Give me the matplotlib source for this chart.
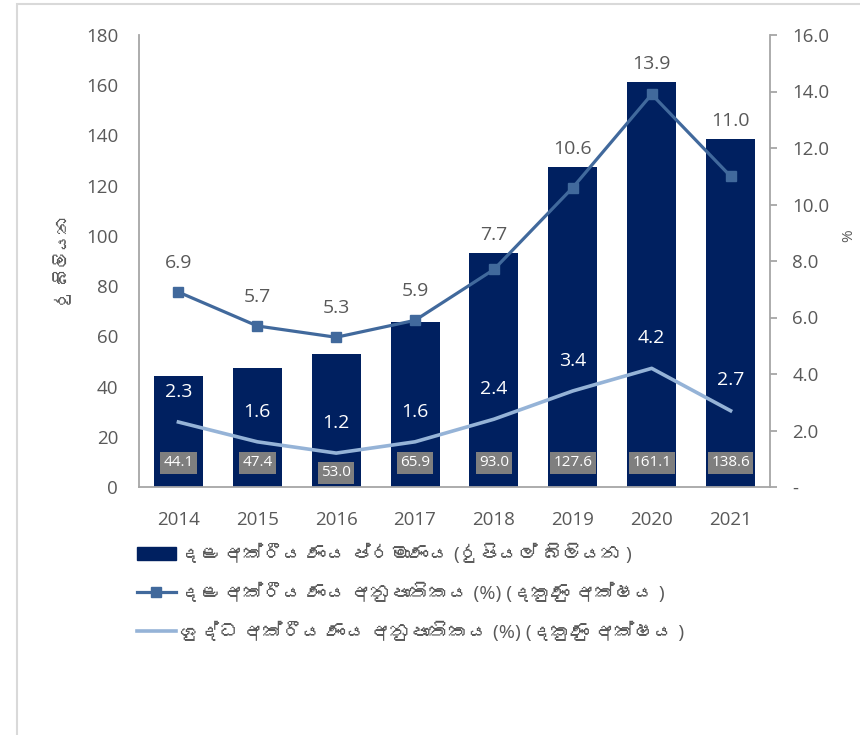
import numpy as np
import matplotlib
matplotlib.use('Agg')
from matplotlib import pyplot as plt
from matplotlib import font_manager
from matplotlib.patches import Rectangle
from fontTools.ttLib import TTFont

years = ['2014', '2015', '2016', '2017', '2018', '2019', '2020', '2021']
gross_npl_amount = [44.1, 47.4, 53.0, 65.9, 93.0, 127.6, 161.1, 138.6]
gross_npl_ratio = [6.9, 5.7, 5.3, 5.9, 7.7, 10.6, 13.9, 11.0]
net_npl_ratio = [2.3, 1.6, 1.2, 1.6, 2.4, 3.4, 4.2, 2.7]

legend_labels = ['දළ අක්‍රීය ණය ප්‍රමාණය (රුපියල් බිලියන )',
                 'දළ අක්‍රීය ණය අනුපාතිකය (%) (දකුණු අක්ෂය )',
                 'ශුද්ධ අක්‍රීය ණය අනුපාතිකය (%) (දකුණු අක්ෂය )']
ylabel_left = 'රු බිලියන'
ylabel_right = '%'


def find_sinhala_font():
    # look for any installed font that has sinhala glyphs
    for f in font_manager.fontManager.ttflist:
        try:
            cmap = TTFont(f.fname, fontNumber=0, lazy=True).getBestCmap()
        except Exception:
            continue
        if cmap and 0x0D85 in cmap and 0x0DBA in cmap:
            return f.name
    return None


def shown(s):
    # zero width joiner has no glyph here, and matplotlib does no shaping anyway
    return s.replace('\u200d', '')


sinhala = find_sinhala_font()
families = ['Open Sans', 'DejaVu Sans']
if sinhala:
    families = ['Open Sans', sinhala, 'DejaVu Sans']
plt.rcParams['font.family'] = families

navy = '#002060'
mid_blue = '#41699c'
light_blue = '#95b3d7'
text_grey = '#595959'
axis_grey = '#a6a6a6'

fig = plt.figure(figsize=(8.6, 7.35), dpi=100)
ax = fig.add_axes([139/860, 1-487/735, 631/860, 452/735])
ax2 = ax.twinx()

x = np.arange(len(years))
ax.bar(x, gross_npl_amount, width=0.62, color=navy, zorder=2)
ax.set_ylim(0, 180)
ax.set_yticks(np.arange(0, 181, 20))
ax.set_xlim(-0.5, len(years) - 0.5)
ax.set_xticks(x)
ax.set_xticklabels(years)

ax2.plot(x, gross_npl_ratio, color=mid_blue, lw=2.3, marker='s', ms=6.5, zorder=3)
ax2.plot(x, net_npl_ratio, color=light_blue, lw=2.6, zorder=3)
ax2.set_ylim(0, 16)
ax2.set_yticks(np.arange(0, 16.1, 2))
ax2.set_yticklabels(['-' if v == 0 else f'{v:.1f}' for v in np.arange(0, 16.1, 2)])

for a in (ax, ax2):
    for s in a.spines.values():
        s.set_visible(False)
ax.spines['left'].set_visible(True)
ax.spines['bottom'].set_visible(True)
ax2.spines['right'].set_visible(True)
for s in (ax.spines['left'], ax.spines['bottom'], ax2.spines['right']):
    s.set_color(axis_grey)
    s.set_linewidth(1.3)

ax.tick_params(axis='y', length=0, pad=15, labelsize=13.5, labelcolor=text_grey)
ax.tick_params(axis='x', length=0, pad=17, labelsize=13.5, labelcolor=text_grey)
ax2.tick_params(axis='y', length=5, width=1.3, color=axis_grey, pad=11,
                labelsize=13.5, labelcolor=text_grey)

ax.set_ylabel(shown(ylabel_left), fontsize=12.5, color=text_grey)
ax.yaxis.set_label_coords(-0.105, 0.5)
ax2.set_ylabel(ylabel_right, fontsize=11, color=text_grey)
ax2.yaxis.set_label_coords(1.113, 0.555)

# data labels
for i in range(len(years)):
    y_top = max(gross_npl_ratio[i] + 1.03, gross_npl_amount[i] / 11.25 + 0.64)
    ax2.text(x[i], y_top, f'{gross_npl_ratio[i]:.1f}', ha='center', va='center',
             fontsize=14, color=text_grey, zorder=5)
    ax2.text(x[i], net_npl_ratio[i] + 1.07, f'{net_npl_ratio[i]:.1f}', ha='center',
             va='center', fontsize=14, color='white', zorder=5)
    yb = 5.6 if years[i] == '2016' else 9.6
    ax.text(x[i], yb, f'{gross_npl_amount[i]:.1f}', ha='center', va='center',
            fontsize=11, color='white', zorder=6,
            bbox=dict(boxstyle='square,pad=0.22', fc='#7f7f7f', ec='none'))

handles = [Rectangle((0, 0), 1, 1, color=navy),
           plt.Line2D([], [], color=mid_blue, lw=2.3, marker='s', ms=6.5),
           plt.Line2D([], [], color=light_blue, lw=2.6)]
fig.legend(handles, [shown(s) for s in legend_labels], loc='upper left',
           bbox_to_anchor=(137/860, 1-544/735),
           frameon=False, fontsize=14, labelcolor=text_grey, borderpad=0,
           borderaxespad=0, handlelength=2.0, handletextpad=0.2, labelspacing=0.95)

# light outer frame
fig.patches.append(Rectangle((17/860, -0.1), 1.1, 1.1 - 4/735, transform=fig.transFigure,
                             fill=False, ec='#d9d9d9', lw=1.5))

fig.savefig('out.png', dpi=100)
